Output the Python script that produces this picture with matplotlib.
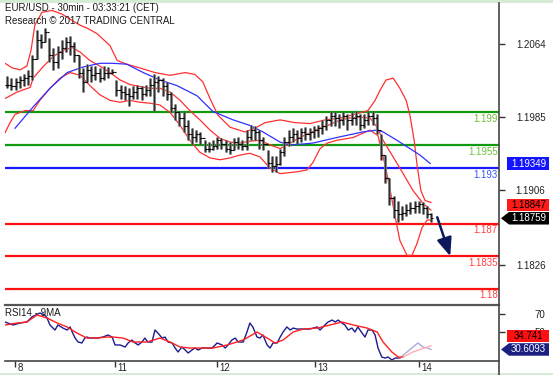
import matplotlib
matplotlib.use('Agg')
import matplotlib.pyplot as plt
import numpy as np
from matplotlib.patches import Rectangle, Polygon
from matplotlib.lines import Line2D
from matplotlib.transforms import ScaledTranslation

plt.rcParams['font.family'] = ['Liberation Sans', 'DejaVu Sans']

# ---------------- data ----------------
highs = [1.2029,1.2027,1.2027,1.2029,1.2031,1.2036,1.2052,1.2079,1.2075,1.2081,
         1.2070,1.2059,1.2062,1.2068,1.2071,1.2072,1.2066,1.2052,1.2038,1.2042,
         1.2040,1.2040,1.2038,1.2040,1.2039,1.2037,1.2025,1.2020,1.2018,1.2016,
         1.2018,1.2020,1.2018,1.2020,1.2027,1.2031,1.2029,1.2027,1.2023,1.2012,
         1.1999,1.1992,1.1990,1.1982,1.1973,1.1971,1.1969,1.1960,1.1958,1.1960,
         1.1963,1.1962,1.1960,1.1958,1.1962,1.1963,1.1960,1.1971,1.1976,1.1975,
         1.1971,1.1964,1.1949,1.1943,1.1943,1.1951,1.1964,1.1971,1.1973,1.1971,
         1.1973,1.1974,1.1973,1.1975,1.1977,1.1982,1.1986,1.1992,1.1990,1.1988,
         1.1990,1.1988,1.1990,1.1992,1.1988,1.1988,1.1990,1.1992,1.1988,1.1967,
         1.1944,1.1919,1.1900,1.1895,1.1889,1.1891,1.1893,1.1895,1.1895,1.1893,
         1.1889,1.1882]
lows = [1.2016,1.2014,1.2014,1.2016,1.2018,1.2020,1.2025,1.2048,1.2059,1.2066,
        1.2044,1.2036,1.2038,1.2048,1.2055,1.2052,1.2044,1.2027,1.2012,1.2023,
        1.2023,1.2025,1.2023,1.2025,1.2027,1.2031,1.2008,1.2005,1.2003,1.1997,
        1.2005,1.2005,1.2003,1.2008,1.2008,1.1992,1.2012,1.2008,1.2003,1.1990,
        1.1982,1.1975,1.1969,1.1960,1.1956,1.1958,1.1956,1.1947,1.1947,1.1949,
        1.1951,1.1951,1.1947,1.1945,1.1949,1.1951,1.1949,1.1949,1.1960,1.1960,
        1.1951,1.1949,1.1930,1.1926,1.1926,1.1933,1.1943,1.1954,1.1958,1.1956,
        1.1958,1.1960,1.1960,1.1962,1.1964,1.1967,1.1971,1.1975,1.1975,1.1973,
        1.1977,1.1971,1.1977,1.1977,1.1971,1.1973,1.1977,1.1977,1.1967,1.1939,
        1.1914,1.1890,1.1876,1.1872,1.1874,1.1878,1.1880,1.1882,1.1882,1.1880,
        1.1876,1.1872]
closes = [1.2020,1.2018,1.2023,1.2025,1.2027,1.2029,1.2048,1.2068,1.2066,1.2077,
          1.2052,1.2044,1.2055,1.2059,1.2066,1.2062,1.2052,1.2033,1.2023,1.2036,
          1.2030,1.2033,1.2027,1.2033,1.2033,1.2034,1.2014,1.2012,1.2010,1.2008,
          1.2012,1.2016,1.2010,1.2014,1.2020,1.2023,1.2025,1.2018,1.2010,1.1995,
          1.1990,1.1984,1.1975,1.1967,1.1964,1.1967,1.1962,1.1951,1.1951,1.1954,
          1.1960,1.1956,1.1951,1.1949,1.1958,1.1956,1.1954,1.1964,1.1971,1.1969,
          1.1960,1.1956,1.1936,1.1932,1.1934,1.1947,1.1958,1.1964,1.1967,1.1962,
          1.1969,1.1967,1.1969,1.1971,1.1973,1.1975,1.1982,1.1986,1.1984,1.1982,
          1.1986,1.1982,1.1984,1.1986,1.1977,1.1982,1.1986,1.1984,1.1971,1.1944,
          1.1919,1.1898,1.1885,1.1880,1.1882,1.1885,1.1887,1.1889,1.1891,1.1887,
          1.1880,1.18759]

# Bollinger bands (upper / middle / lower) and moving average: (bar position, price)
bb_up_t = [-0.5,1.2,3.1,4.7,5.7,6.6,8.3,10.7,13.1,15.5,17.4,19.0,21.4,24.5,26.2,28.5,31.6,35.2,38.8,
           42.4,44.7,46.6,48.3,50.2,53.1,56.6,59.0,61.4,65.0,68.5,72.1,75.7,79.3,82.8,85.9,87.6,88.8,
           90.2,91.9,93.5,95.0,95.9,96.9,97.6,98.5,99.5,100.9]
bb_up = [1.2043,1.2038,1.2036,1.2040,1.2057,1.2084,1.2098,1.2100,1.2096,1.2089,1.2084,1.2081,1.2075,
         1.2062,1.2046,1.2042,1.2038,1.2033,1.2030,1.2033,1.2031,1.2023,1.2005,1.1987,1.1974,1.1969,
         1.1973,1.1979,1.1982,1.1979,1.1978,1.1982,1.1984,1.1988,1.1992,1.2003,1.2014,1.2025,1.2027,
         1.2016,1.2003,1.1987,1.1960,1.1933,1.1906,1.1895,1.1893]
bb_mid_t = [-0.5,2.4,5.5,6.2,8.5,10.9,13.3,15.5,17.4,19.7,22.1,24.5,26.9,29.3,31.6,34.0,36.4,38.8,41.2,
            43.5,45.9,48.3,50.7,53.1,55.4,57.8,60.2,62.6,65.0,67.4,69.7,72.1,74.5,76.9,79.3,81.6,84.0,
            86.4,88.1,89.5,91.9,94.3,96.6,99.0,100.9]
bb_mid = [1.2005,1.2012,1.2017,1.2027,1.2039,1.2050,1.2057,1.2060,1.2055,1.2046,1.2040,1.2033,1.2025,
          1.2020,1.2018,1.2016,1.2016,1.2012,1.2003,1.1992,1.1982,1.1971,1.1962,1.1958,1.1957,1.1959,
          1.1960,1.1955,1.1951,1.1957,1.1963,1.1968,1.1973,1.1977,1.1982,1.1984,1.1985,1.1984,1.1974,
          1.1960,1.1942,1.1924,1.1906,1.1892,1.18847]
bb_low_t = [-0.5,0.7,1.9,4.3,6.2,7.8,10.2,12.6,15.0,17.4,19.7,22.1,24.5,26.9,29.3,31.6,34.0,36.4,38.8,
            41.2,43.5,45.9,48.3,50.7,53.1,55.4,57.8,60.2,62.6,65.0,69.0,71.4,72.8,74.5,76.2,78.5,82.4,
            86.4,88.3,90.0,91.2,92.4,93.5,95.2,96.4,97.6,98.8,100.0,100.9]
bb_low = [1.1968,1.1979,1.1988,1.1992,1.1992,1.2003,1.2016,1.2027,1.2033,1.2030,1.2019,1.2009,1.2003,
          1.2001,1.2003,1.2001,1.2000,1.1998,1.1990,1.1976,1.1960,1.1947,1.1941,1.1939,1.1941,1.1944,
          1.1946,1.1942,1.1930,1.1924,1.1926,1.1928,1.1936,1.1951,1.1957,1.1960,1.1963,1.1971,1.1965,
          1.1933,1.1906,1.1877,1.1852,1.1836,1.1836,1.1849,1.1866,1.1874,1.1874]
ma_t = [1.9,6.2,10.2,14.3,18.1,22.1,25.2,28.5,32.4,36.4,40.4,45.2,49.0,53.8,57.8,60.9,65.0,67.4,70.5,
        72.8,78.5,84.7,88.1,89.5,92.8,95.9,98.3,100.7]
ma = [1.1973,1.1996,1.2016,1.2033,1.2039,1.2043,1.2043,1.2042,1.2033,1.2025,1.2019,1.2008,1.1991,
      1.1982,1.1976,1.1969,1.1958,1.1955,1.1956,1.1957,1.1963,1.1969,1.1971,1.1969,1.1960,1.1951,
      1.1944,1.1935]

green_levels = [1.199, 1.1955]
blue_levels = [1.193]
red_levels = [1.187, 1.1835, 1.18]
price_ticks = [1.2064, 1.1985, 1.1906, 1.1826]
blue_box_value = 1.19349

rsi_t = [-0.5,1.4,3.1,4.7,5.9,7.8,9.0,9.5,10.2,11.4,12.1,13.3,14.3,15.0,15.5,16.2,16.9,17.8,18.5,19.0,
         19.7,21.4,22.8,24.0,25.0,25.7,26.9,28.1,28.8,29.7,30.5,31.2,32.1,32.8,33.5,34.5,35.2,35.9,36.9,
         37.6,38.3,39.3,40.0,40.7,41.6,42.4,43.1,44.0,44.7,45.5,46.4,47.6,48.8,50.0,51.2,51.9,52.6,53.5,
         54.3,55.0,56.2,57.1,57.8,58.5,59.5,60.2,60.9,61.9,62.6,63.3,64.3,65.0,65.7,66.6,67.4,68.1,69.0,
         70.5,72.1,73.8,74.5,75.2,76.4,77.4,78.1,78.8,79.7,80.4,81.2,82.1,82.8,83.5,84.5,85.2,85.9,86.9,
         87.6,88.3,89.2,90.0,90.7,91.6,92.4,93.5,95.2,96.6,97.8,99.0,100.2,100.9]
rsi = [61.1,57.8,60.0,61.1,66.7,71.1,68.9,65.6,57.8,52.2,57.8,54.4,52.2,55.6,50.0,43.3,38.9,37.8,43.3,44.4,
       43.3,43.3,44.4,46.7,44.4,35.6,35.6,33.3,37.8,41.1,37.8,35.6,38.9,43.3,38.9,38.9,52.2,48.9,43.3,
       44.4,38.9,37.8,32.2,27.8,33.3,30.0,26.7,30.0,32.2,30.0,32.2,32.2,32.2,37.8,35.6,32.2,35.6,41.1,
       43.3,38.9,38.9,50.0,60.0,55.6,44.4,43.3,46.7,35.6,32.2,37.8,37.8,44.4,50.0,55.6,52.2,54.4,53.3,
       53.3,53.3,55.6,52.2,55.6,61.1,63.3,61.1,63.3,60.0,57.8,52.2,54.4,50.0,55.6,48.9,44.4,52.2,52.2,
       46.7,32.2,22.2,21.1,22.2,18.9,21.1,21.1,27.8,33.3,37.8,33.3,32.2,30.6093]
rsi_ma_t = [-0.5,2.4,4.7,7.1,9.5,11.9,14.3,16.6,19.0,21.4,23.8,25.2,27.6,30.0,33.3,36.4,38.8,41.2,43.5,
            46.6,49.0,52.4,56.2,59.5,61.9,63.8,65.7,68.1,70.5,73.8,76.9,79.7,82.4,85.7,88.1,89.5,91.6,
            93.1,94.3,96.6,100.0,100.9]
rsi_ma = [57.8,60.0,61.1,68.9,65.6,60.0,55.6,48.9,43.3,43.3,44.4,44.4,43.3,38.9,38.9,43.3,38.9,33.3,
          32.2,32.2,32.2,35.6,41.1,50.0,43.3,37.8,41.1,50.0,53.3,54.4,57.8,61.1,57.8,54.4,50.0,38.9,
          27.8,22.2,22.2,27.8,33.3,34.741]
rsi_ticks = [70, 50]

day_pos = [1.9, 25.7, 50.0, 73.3, 98.1]
day_labels = ['8', '11', '12', '13', '14']

arrow_from = (102.4, 1.1877)
arrow_to = (105.5, 1.1835)

# ---------------- figure ----------------
W, H = 553, 375
fig = plt.figure(figsize=(W / 100, H / 100), dpi=100)
fig.patch.set_facecolor('white')


def fx(px):
    return px / W


def fy(py):
    return 1 - py / H


ax = fig.add_axes([fx(5), fy(305), fx(499) - fx(5), fy(3) - fy(305)])
rax = fig.add_axes([fx(5), fy(361), fx(499) - fx(5), fy(305) - fy(361)], sharex=ax)

ax.set_xlim(-0.5, 117.1)
ax.set_ylim(1.17824, 1.21080)
rax.set_ylim(17.8, 80.0)

# levels
for lv in green_levels:
    ax.axhline(lv, color='#109a10', lw=1.6, zorder=2)
for lv in blue_levels:
    ax.axhline(lv, color='#1a1aff', lw=1.6, zorder=2)
for lv in red_levels:
    ax.axhline(lv, color='#ff1010', lw=1.6, zorder=2)

lvl_txt_col = {}
for lv in green_levels:
    lvl_txt_col[lv] = '#6cbf3a'
for lv in blue_levels:
    lvl_txt_col[lv] = '#3a55ff'
for lv in red_levels:
    lvl_txt_col[lv] = '#ff4040'
for lv, col in lvl_txt_col.items():
    ax.annotate(f'{lv:g}', xy=(1, lv), xycoords=('axes fraction', 'data'),
                xytext=(-1.0, -4.8), textcoords='offset points', ha='right', va='center',
                color=col, fontsize=7)

# indicators
ax.plot(bb_up_t, bb_up, color='#ff3030', lw=0.9, zorder=3)
ax.plot(bb_mid_t, bb_mid, color='#ff3030', lw=0.9, zorder=3)
ax.plot(bb_low_t, bb_low, color='#ff3030', lw=0.9, zorder=3)
ax.plot(ma_t, ma, color='#3030ff', lw=0.9, zorder=3)

# bars
t = np.arange(len(closes))
opens = [closes[0]] + closes[:-1]
ax.vlines(t, lows, highs, color='#777777', lw=2.0, zorder=4)
ax.vlines(t, lows, highs, color='#111111', lw=0.5, zorder=4)
ax.hlines(closes, t, t + 0.5, color='black', lw=0.8, zorder=4)
ax.hlines(opens, t - 0.5, t, color='black', lw=0.8, zorder=4)

# arrow
ax.annotate('', xy=arrow_to, xytext=arrow_from,
            arrowprops=dict(arrowstyle='-|>,head_length=1.1,head_width=0.45',
                            color='#0c1a5c', lw=1.8, mutation_scale=10, shrinkA=0, shrinkB=0),
            zorder=6)

# RSI
rsi_t_a = np.array(rsi_t)
rsi_a = np.array(rsi)
cut = 93.5
m1 = rsi_t_a <= cut
m2 = rsi_t_a >= cut
rax.plot(rsi_t_a[m1], rsi_a[m1], color='#1c1c90', lw=1.0)
rax.plot(rsi_t_a[m2], rsi_a[m2], color='#a9a9dd', lw=1.0)
rma_t_a = np.array(rsi_ma_t)
rma_a = np.array(rsi_ma)
n1 = rma_t_a <= 94.3
n2 = rma_t_a >= 94.3
rax.plot(rma_t_a[n1], rma_a[n1], color='#ff2020', lw=1.0)
rax.plot(rma_t_a[n2], rma_a[n2], color='#ffb0b0', lw=1.0)

# axes styling
for a in (ax, rax):
    for s in ('left', 'top', 'right'):
        a.spines[s].set_visible(False)
    a.yaxis.tick_right()
    a.set_facecolor('none')
ax.spines['bottom'].set_color('#555555')
ax.spines['bottom'].set_linewidth(1.6)
rax.spines['bottom'].set_color('#444444')
rax.spines['bottom'].set_linewidth(1.2)

ax.tick_params(axis='x', bottom=False, labelbottom=False)
ax.set_yticks(price_ticks)
ax.set_yticklabels([f'{v:.4f}' for v in price_ticks])
ax.tick_params(axis='y', direction='out', length=4, width=1, color='#333333',
               labelsize=7, labelcolor='#222222', pad=29.5)
for lb in ax.get_yticklabels():
    lb.set_horizontalalignment('right')

rax.set_yticks(rsi_ticks)
rax.set_yticklabels([str(v) for v in rsi_ticks])
rax.tick_params(axis='y', direction='out', length=4, width=1, color='#333333',
                labelsize=7, labelcolor='#222222', pad=29.5)
for lb in rax.get_yticklabels():
    lb.set_horizontalalignment('right')

rax.set_xticks(day_pos)
rax.set_xticklabels(day_labels)
rax.tick_params(axis='x', direction='out', length=4, width=1, color='#333333',
                labelsize=7, labelcolor='#222222', pad=-2.6)
shift = ScaledTranslation(2.5 / 100, 0, fig.dpi_scale_trans)
for lb in rax.get_xticklabels():
    lb.set_horizontalalignment('left')
    lb.set_transform(lb.get_transform() + shift)

# titles
fig.text(fx(5), fy(8), 'EUR/USD - 30min - 03:33:21 (CET)', fontsize=7, color='#1a1a1a', va='center')
fig.text(fx(5), fy(21), 'Research \u00a9 2017 TRADING CENTRAL', fontsize=7, color='#1a1a1a', va='center')
fig.text(fx(5), fy(313), 'RSI14 - 9MA', fontsize=7, color='#1a1a1a', va='center')

# frame decorations
fig.add_artist(Rectangle((0, fy(3)), 1, 3 / H, transform=fig.transFigure,
                         facecolor='#d6ebd6', edgecolor='none', zorder=0))
fig.add_artist(Rectangle((0, 0), 1, 2.5 / H, transform=fig.transFigure,
                         facecolor='#d6ebd6', edgecolor='none', zorder=0))
fig.add_artist(Line2D([fx(499), fx(499)], [0, fy(3)], transform=fig.transFigure,
                      color='#444444', lw=1.2))

# value boxes
fig.canvas.draw()


def ytop(axis, v):
    return H - axis.transData.transform((0, v))[1]


def value_box(yc, text, face, tcol, arrow=False):
    h = 12.5
    x0 = 507
    x1 = 549
    if arrow:
        pts = [(501, yc), (509, yc - h / 2), (x1, yc - h / 2), (x1, yc + h / 2), (509, yc + h / 2)]
    else:
        pts = [(x0, yc - h / 2), (x1, yc - h / 2), (x1, yc + h / 2), (x0, yc + h / 2)]
    fig.add_artist(Polygon([(fx(a), fy(b)) for a, b in pts], closed=True,
                           transform=fig.transFigure, facecolor=face, edgecolor='none', zorder=5))
    fig.text(fx(528.5), fy(yc), text, ha='center', va='center', fontsize=7, color=tcol, zorder=6)


last_close = closes[-1]
mid_last = bb_mid[-1]
y_blue = ytop(ax, blue_box_value)
y_close = ytop(ax, last_close)
y_mid = min(ytop(ax, mid_last), y_close - 13.5)
value_box(y_blue, f'{blue_box_value:.5f}', '#1414ff', 'white')
value_box(y_mid, f'{mid_last:.5f}', '#ff1a1a', 'black')
value_box(y_close, f'{last_close:.5f}', '#000000', 'white', arrow=True)

y_rsi = ytop(rax, rsi[-1])
y_rma = min(ytop(rax, rsi_ma[-1]), y_rsi - 13.5)
value_box(y_rma, f'{rsi_ma[-1]:.3f}', '#ff1010', 'black')
value_box(y_rsi, f'{rsi[-1]:.4f}', '#1a1f80', 'white', arrow=True)

fig.savefig('out.png', dpi=100, facecolor='white')
